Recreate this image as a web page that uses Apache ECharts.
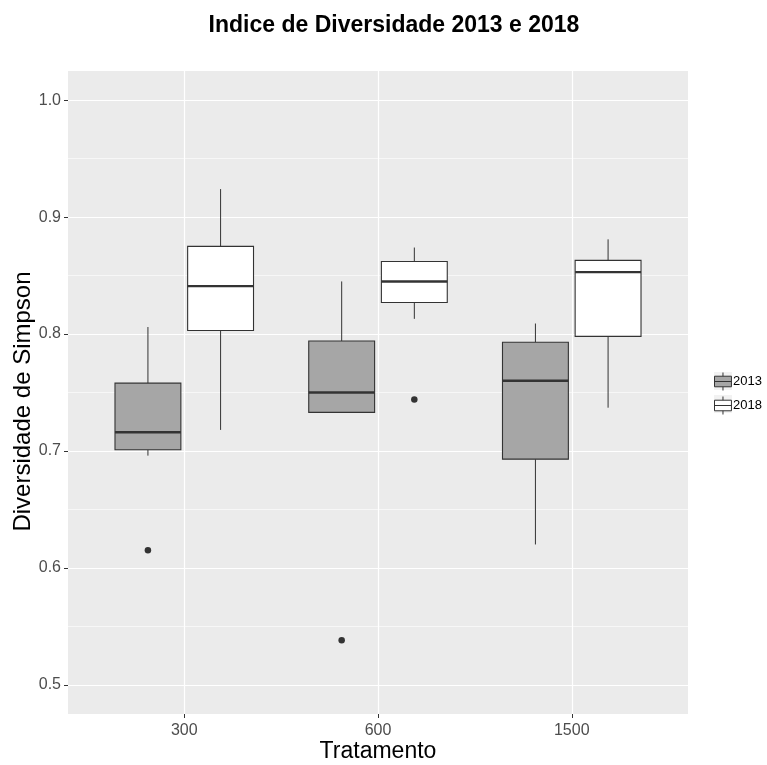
<!DOCTYPE html>
<html>
<head>
<meta charset="utf-8">
<script src="https://cdn.jsdelivr.net/npm/echarts@6/dist/echarts.min.js"></script>
<style>
  html, body { margin: 0; padding: 0; background: #fff; }
  #chart { width: 767px; height: 765px; }
</style>
</head>
<body>
<div id="chart"></div>
<script>
var categories = ['300', '600', '1500'];
var years = ['2013', '2018'];
// lower whisker, Q1, median, Q3, upper whisker
var box2013 = [
  [0.696, 0.701, 0.716, 0.758, 0.806],
  [0.733, 0.733, 0.750, 0.794, 0.845],
  [0.620, 0.693, 0.760, 0.793, 0.809]
];
var box2018 = [
  [0.718, 0.803, 0.841, 0.875, 0.924],
  [0.813, 0.827, 0.845, 0.862, 0.874],
  [0.737, 0.798, 0.853, 0.863, 0.881]
];
// [category index, value]
var outliers2013 = [[0, 0.615], [1, 0.538]];
var outliers2018 = [[1, 0.744]];
var yTicks = [0.5, 0.6, 0.7, 0.8, 0.9, 1.0];
var yMinor = [0.55, 0.65, 0.75, 0.85, 0.95];

var FONT = '"Liberation Sans", Arial, sans-serif';
var fills = { '2013': '#A6A6A6', '2018': '#FFFFFF' };
var dodge = 0.1875;   // half of dodge width
var boxW = 0.34;      // box width in x units

function boxData(boxes, off) {
  return boxes.map(function (b, i) {
    return [i + 1 + off].concat(b);
  });
}
function outlierData(pts, off) {
  return pts.map(function (p) { return [p[0] + 1 + off, p[1]]; });
}

function renderBox(fill) {
  return function (params, api) {
    var x = api.value(0);
    var lo = api.coord([x, api.value(1)]);
    var q1 = api.coord([x, api.value(2)]);
    var med = api.coord([x, api.value(3)]);
    var q3 = api.coord([x, api.value(4)]);
    var hi = api.coord([x, api.value(5)]);
    var w = api.size([boxW, 0])[0];
    var cx = lo[0];
    var line = { stroke: '#333333', lineWidth: 1 };
    return {
      type: 'group',
      children: [
        { type: 'line', shape: { x1: cx, y1: hi[1], x2: cx, y2: q3[1] }, style: line },
        { type: 'line', shape: { x1: cx, y1: q1[1], x2: cx, y2: lo[1] }, style: line },
        { type: 'rect', shape: { x: cx - w / 2, y: q3[1], width: w, height: q1[1] - q3[1] },
          style: { fill: fill, stroke: '#333333', lineWidth: 1.1 } },
        { type: 'line', shape: { x1: cx - w / 2, y1: med[1], x2: cx + w / 2, y2: med[1] },
          style: { stroke: '#333333', lineWidth: 2.4 } }
      ]
    };
  };
}

var legendIcon = 'path://M8.5,0L8.5,3.5M0.5,3.5L16.5,3.5L16.5,13.5L0.5,13.5ZM0.5,8.5L16.5,8.5M8.5,13.5L8.5,17';

var chart = echarts.init(document.getElementById('chart'));
chart.setOption({
  backgroundColor: '#ffffff',
  animation: false,
  title: {
    text: 'Indice de Diversidade 2013 e 2018',
    left: 389,
    textAlign: 'center',
    top: 9,
    textStyle: { fontFamily: FONT, fontWeight: 'bold', fontSize: 23, color: '#000000' }
  },
  graphic: [
    { type: 'rect', left: 714, top: 372, shape: { width: 18, height: 18 }, style: { fill: '#F2F2F2' }, z: 0 },
    { type: 'rect', left: 714, top: 395, shape: { width: 18, height: 18 }, style: { fill: '#F2F2F2' }, z: 0 }
  ],
  legend: {
    orient: 'vertical',
    left: 714,
    top: 372,
    padding: 0,
    itemWidth: 18,
    itemHeight: 18,
    itemGap: 5,
    selectedMode: false,
    textStyle: { fontFamily: FONT, fontSize: 13, color: '#000000', padding: [0, 0, 0, -4] },
    data: years.map(function (y) {
      return { name: y, icon: legendIcon,
        itemStyle: { color: fills[y], borderColor: '#333333', borderWidth: 1 } };
    })
  },
  grid: {
    left: 68, top: 71, right: 79, bottom: 51,
    outerBoundsMode: 'none',
    show: true, backgroundColor: '#EBEBEB', borderWidth: 0
  },
  xAxis: {
    type: 'value',
    min: 0.4,
    max: 3.6,
    name: 'Tratamento',
    nameLocation: 'middle',
    nameGap: 26,
    nameMoveOverlap: false,
    nameTextStyle: { fontFamily: FONT, fontSize: 23, color: '#000000' },
    axisLine: { show: false },
    axisTick: { show: true, length: 4, lineStyle: { color: '#333333', width: 1 }, customValues: [1, 2, 3] },
    axisLabel: {
      customValues: [1, 2, 3],
      margin: 9,
      fontFamily: FONT, fontSize: 16, color: '#4D4D4D',
      formatter: function (v) { return categories[Math.round(v) - 1]; }
    },
    splitLine: { show: true, lineStyle: { color: '#FFFFFF', width: 1.2 } }
  },
  yAxis: [{
    type: 'value',
    min: 0.475,
    max: 1.025,
    name: 'Diversidade de Simpson',
    nameLocation: 'middle',
    nameGap: 33,
    nameMoveOverlap: false,
    nameTextStyle: { fontFamily: FONT, fontSize: 24, color: '#000000', padding: [0, 18, 0, 0] },
    axisLine: { show: false },
    axisTick: { show: true, length: 4, lineStyle: { color: '#333333', width: 1 }, customValues: yTicks },
    axisLabel: {
      customValues: yTicks,
      margin: 7,
      fontFamily: FONT, fontSize: 16, color: '#4D4D4D',
      formatter: function (v) { return v.toFixed(1); }
    },
    splitLine: { show: true, lineStyle: { color: '#FFFFFF', width: 1.2 } },
    z: 1
  }, {
    type: 'value',
    min: 0.475,
    max: 1.025,
    position: 'left',
    axisLine: { show: false },
    axisTick: { show: false, customValues: yMinor },
    axisLabel: { show: false, customValues: yMinor },
    splitLine: { show: true, lineStyle: { color: '#FFFFFF', width: 0.6 } },
    z: 0
  }],
  series: [
    {
      name: '2013', type: 'custom', renderItem: renderBox(fills['2013']),
      itemStyle: { color: fills['2013'], borderColor: '#333333' },
      encode: { x: 0, y: [1, 2, 3, 4, 5] },
      data: boxData(box2013, -dodge), z: 3
    },
    {
      name: '2018', type: 'custom', renderItem: renderBox(fills['2018']),
      itemStyle: { color: fills['2018'], borderColor: '#333333' },
      encode: { x: 0, y: [1, 2, 3, 4, 5] },
      data: boxData(box2018, dodge), z: 3
    },
    {
      name: '2013', type: 'scatter', symbolSize: 6.5,
      itemStyle: { color: '#333333', opacity: 1 },
      data: outlierData(outliers2013, -dodge), z: 4
    },
    {
      name: '2018', type: 'scatter', symbolSize: 6.5,
      itemStyle: { color: '#333333', opacity: 1 },
      data: outlierData(outliers2018, dodge), z: 4
    }
  ]
});
window.addEventListener('resize', function () { chart.resize(); });
</script>
</body>
</html>
